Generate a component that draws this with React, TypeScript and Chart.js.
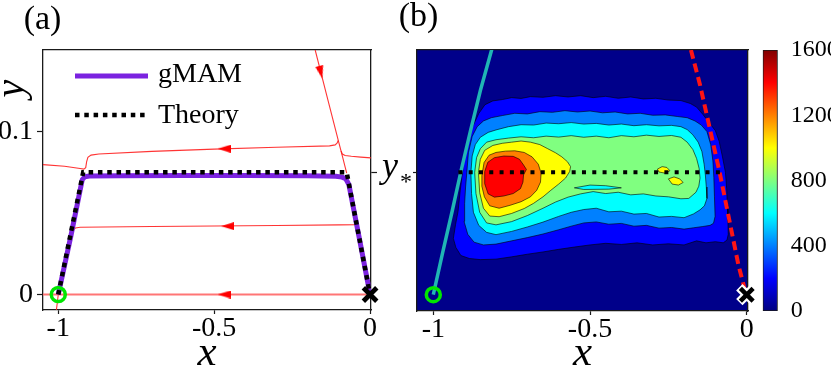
import React, { useEffect, useRef } from 'react';
import { Chart, registerables } from 'chart.js';

Chart.register(...registerables);

const SERIF = "'Liberation Serif', 'Times New Roman', serif";
Chart.defaults.font.family = SERIF;
Chart.defaults.color = '#000';

// ---------- shared axis data ----------
const X_TICKS = [-1, -0.5, 0];
const X_TICK_LABELS = ['-1', '-0.5', '0'];
const A_Y_TICKS = [0, 0.1];
const A_Y_TICK_LABELS = ['0', '0.1'];
const Y_STAR = 0.075;
const A_X_RANGE = [-1.049, 0.003];
const B_X_RANGE = [-1.052, 0.004];
const A_Y_RANGE = [-0.0095, 0.15];
const B_Y_RANGE = [-0.01, 0.15];
const CBAR_TICKS = [0, 400, 800, 1200, 1600];
const CBAR_TICK_LABELS = ['0', '400', '800', '1200', '1600'];
const CBAR_RANGE = [0, 1600];
const CONTOUR_LEVELS = [200, 400, 600, 800, 1000, 1200, 1400];
const LEGEND_LABELS = ['gMAM', 'Theory'];

// ---------- panel (a) ----------
const START_X = [-1];
const START_Y = [0];
const SADDLE_X = [0];
const SADDLE_Y = [0];

const THEORY_X = [-1, -0.92, -0.075, 0];
const THEORY_Y = [0, 0.075, 0.075, 0];

const GMAM_X = [-1, -0.96, -0.923, -0.915, -0.9, -0.8, -0.6, -0.4, -0.2, -0.11, -0.09, -0.078, -0.068, -0.034, 0];
const GMAM_Y = [0, 0.0355, 0.0705, 0.0722, 0.0727, 0.0729, 0.073, 0.073, 0.0729, 0.0726, 0.072, 0.071, 0.0675, 0.034, 0];

const TRAJ_STEEP_X = [-0.176, -0.139, -0.102, -0.088, -0.075];
const TRAJ_STEEP_Y = [0.15, 0.1222, 0.0945, 0.0843, 0.0745];
const TRAJ_UPPER_X = [-0.102, -0.106, -0.112, -0.13, -0.3, -0.5, -0.7, -0.87, -0.895, -0.905, -0.909, -0.912, -0.918, -0.93, -0.98, -1.049];
const TRAJ_UPPER_Y = [0.0945, 0.0928, 0.0918, 0.0912, 0.0903, 0.0892, 0.0878, 0.0862, 0.0855, 0.0842, 0.0815, 0.0778, 0.0769, 0.0773, 0.0787, 0.0797];
const TRAJ_RIGHT_X = [-0.093, -0.089, -0.08, -0.06, -0.03, 0.003];
const TRAJ_RIGHT_Y = [0.088, 0.0862, 0.0853, 0.0848, 0.0843, 0.0838];
const TRAJ_MID_X = [-0.953, -0.945, -0.93, -0.7, -0.5, -0.3, -0.1, -0.046];
const TRAJ_MID_Y = [0.0395, 0.0408, 0.0413, 0.0417, 0.042, 0.0423, 0.0427, 0.0428];
const TRAJ_ZERO_X = [0.003, -1.049];
const TRAJ_ZERO_Y = [0, 0];
const TRAJ_DOWN_X = [-1, -1.006];
const TRAJ_DOWN_Y = [0, -0.0095];

const ARROW_X = [-0.468, -0.457, -0.468, -0.158];
const ARROW_Y = [0, 0.0419, 0.0894, 0.1363];
const ARROW_ROT = [180, 180, 180, 76];

// ---------- panel (b) ----------
const DOTTED_X = [-0.92, -0.08];
const DOTTED_Y = [0.075, 0.075];
const CYAN_X = [-1, -0.97, -0.94, -0.912, -0.882, -0.85, -0.814, -0.806];
const CYAN_Y = [0, 0.026, 0.051, 0.0755, 0.1, 0.125, 0.15, 0.156];
const REDDASH_X = [-0.178, -0.149, -0.087, -0.0265, -0.006];
const REDDASH_Y = [0.15, 0.1286, 0.0755, 0.0182, 0.003];

// contour outlines, level >= 200 ... >= 1400
const BAND_200 = [[-0.905,0.078],[-0.897,0.090],[-0.884,0.099],[-0.872,0.104],[-0.855,0.111],[-0.835,0.1165],[-0.81,0.1188],[-0.78,0.1196],[-0.75,0.1208],[-0.72,0.1203],[-0.69,0.1214],[-0.65,0.1210],[-0.61,0.1220],[-0.57,0.1212],[-0.53,0.1220],[-0.49,0.1208],[-0.45,0.1216],[-0.41,0.1204],[-0.37,0.1212],[-0.33,0.1200],[-0.29,0.1204],[-0.25,0.1193],[-0.21,0.1190],[-0.18,0.1172],[-0.16,0.1150],[-0.14,0.1105],[-0.12,0.1055],[-0.10,0.1005],[-0.088,0.094],[-0.078,0.085],[-0.068,0.075],[-0.064,0.065],[-0.062,0.055],[-0.060,0.045],[-0.059,0.037],[-0.063,0.0335],[-0.075,0.0318],[-0.10,0.0325],[-0.13,0.0318],[-0.16,0.0330],[-0.20,0.0305],[-0.25,0.0312],[-0.30,0.0305],[-0.35,0.0318],[-0.40,0.0308],[-0.45,0.0315],[-0.50,0.0305],[-0.55,0.0292],[-0.60,0.0278],[-0.65,0.0262],[-0.70,0.0248],[-0.75,0.0232],[-0.80,0.0218],[-0.85,0.0215],[-0.885,0.0222],[-0.912,0.0240],[-0.928,0.029],[-0.936,0.0345],[-0.929,0.043],[-0.921,0.051],[-0.914,0.064]];
const BAND_400 = [[-0.893,0.075],[-0.888,0.087],[-0.876,0.097],[-0.86,0.103],[-0.84,0.1065],[-0.815,0.1085],[-0.78,0.1098],[-0.74,0.1112],[-0.70,0.1108],[-0.66,0.1122],[-0.62,0.1118],[-0.58,0.1128],[-0.54,0.1120],[-0.50,0.1126],[-0.46,0.1115],[-0.42,0.1120],[-0.38,0.1108],[-0.34,0.1112],[-0.30,0.1100],[-0.26,0.1102],[-0.22,0.1092],[-0.19,0.1085],[-0.165,0.1065],[-0.145,0.1040],[-0.127,0.100],[-0.115,0.092],[-0.108,0.082],[-0.105,0.072],[-0.103,0.060],[-0.101,0.048],[-0.106,0.0438],[-0.117,0.0425],[-0.14,0.0418],[-0.17,0.0410],[-0.20,0.0402],[-0.24,0.0412],[-0.28,0.0408],[-0.32,0.0425],[-0.36,0.0420],[-0.40,0.0437],[-0.44,0.0432],[-0.48,0.0446],[-0.52,0.0440],[-0.56,0.0420],[-0.60,0.0398],[-0.65,0.0372],[-0.70,0.0350],[-0.75,0.0330],[-0.80,0.0310],[-0.84,0.0305],[-0.87,0.0322],[-0.89,0.0370],[-0.902,0.0450],[-0.90,0.056],[-0.897,0.066]];
const BAND_600 = [[-0.880,0.075],[-0.876,0.085],[-0.866,0.092],[-0.85,0.0965],[-0.825,0.0995],[-0.80,0.1010],[-0.76,0.1030],[-0.72,0.1042],[-0.68,0.1040],[-0.64,0.1052],[-0.60,0.1048],[-0.56,0.1055],[-0.52,0.1046],[-0.48,0.1050],[-0.44,0.1040],[-0.40,0.1046],[-0.36,0.1036],[-0.32,0.1042],[-0.28,0.1035],[-0.24,0.1038],[-0.21,0.1030],[-0.19,0.1012],[-0.172,0.0980],[-0.155,0.0935],[-0.143,0.0877],[-0.136,0.080],[-0.132,0.0734],[-0.129,0.066],[-0.127,0.0590],[-0.135,0.0545],[-0.149,0.0520],[-0.17,0.0495],[-0.20,0.0472],[-0.24,0.0480],[-0.28,0.0476],[-0.32,0.0498],[-0.36,0.0494],[-0.40,0.0512],[-0.44,0.0508],[-0.48,0.0530],[-0.52,0.0522],[-0.56,0.0505],[-0.60,0.0480],[-0.65,0.0445],[-0.70,0.0415],[-0.75,0.0388],[-0.80,0.0368],[-0.83,0.0382],[-0.855,0.0425],[-0.872,0.0505],[-0.878,0.0620]];
const BAND_800 = [[-0.868,0.075],[-0.862,0.084],[-0.850,0.0895],[-0.830,0.0935],[-0.80,0.0950],[-0.76,0.0960],[-0.72,0.0968],[-0.68,0.0962],[-0.64,0.0972],[-0.60,0.0966],[-0.56,0.0975],[-0.52,0.0965],[-0.48,0.0972],[-0.44,0.0962],[-0.40,0.0975],[-0.36,0.0968],[-0.32,0.0978],[-0.28,0.0970],[-0.24,0.0976],[-0.21,0.0965],[-0.19,0.0935],[-0.172,0.0890],[-0.160,0.0835],[-0.152,0.0775],[-0.149,0.0715],[-0.153,0.0665],[-0.162,0.0628],[-0.185,0.0590],[-0.21,0.0588],[-0.25,0.0600],[-0.29,0.0605],[-0.33,0.0618],[-0.37,0.0612],[-0.41,0.0628],[-0.45,0.0620],[-0.49,0.0632],[-0.53,0.0618],[-0.57,0.0598],[-0.61,0.0568],[-0.65,0.0530],[-0.70,0.0485],[-0.75,0.0448],[-0.80,0.0428],[-0.83,0.0440],[-0.852,0.0505],[-0.864,0.0620]];
const BAND_1000 = [[-0.856,0.075],[-0.850,0.083],[-0.836,0.0885],[-0.81,0.0915],[-0.78,0.0928],[-0.75,0.0935],[-0.72,0.0942],[-0.69,0.0935],[-0.66,0.0920],[-0.635,0.0895],[-0.61,0.0870],[-0.59,0.0845],[-0.572,0.0815],[-0.562,0.0785],[-0.565,0.0755],[-0.578,0.0715],[-0.60,0.0678],[-0.625,0.0640],[-0.65,0.0600],[-0.68,0.0560],[-0.71,0.0528],[-0.75,0.0498],[-0.79,0.0478],[-0.82,0.0482],[-0.840,0.0530],[-0.852,0.0625]];
const BAND_1200 = [[-0.845,0.073],[-0.838,0.081],[-0.822,0.0855],[-0.80,0.0872],[-0.77,0.0880],[-0.74,0.0882],[-0.71,0.0872],[-0.685,0.0845],[-0.665,0.0800],[-0.656,0.0745],[-0.658,0.0690],[-0.670,0.0640],[-0.69,0.0600],[-0.72,0.0570],[-0.755,0.0548],[-0.79,0.0530],[-0.82,0.0545],[-0.837,0.0600],[-0.845,0.0665]];
const BAND_1400 = [[-0.836,0.0755],[-0.826,0.0812],[-0.805,0.0840],[-0.775,0.0850],[-0.745,0.0848],[-0.725,0.0830],[-0.712,0.0795],[-0.703,0.0768],[-0.712,0.0735],[-0.714,0.0690],[-0.722,0.0650],[-0.745,0.0620],[-0.775,0.0605],[-0.805,0.0598],[-0.825,0.0618],[-0.836,0.0680]];
const ISLAND_1000_A = [[-0.285,0.077],[-0.27,0.0785],[-0.255,0.078],[-0.245,0.076],[-0.26,0.0745],[-0.28,0.0752]];
const ISLAND_1000_B = [[-0.25,0.071],[-0.232,0.0722],[-0.214,0.071],[-0.203,0.0688],[-0.218,0.0672],[-0.238,0.0678]];
const ISLAND_600_A = [[-0.55,0.0655],[-0.5,0.0672],[-0.45,0.0668],[-0.40,0.0655],[-0.44,0.0647],[-0.52,0.0645]];

// ---------- helpers ----------
const pts = (xs: number[], ys: number[]) => xs.map((x, i) => ({ x, y: ys[i] }));
const ring = (p: number[][]) => [...p, p[0]].map(([x, y]) => ({ x, y }));
const clamp = (v: number) => Math.max(0, Math.min(1, v));
const jetRGB = (t: number) => [
  clamp(1.5 - Math.abs(4 * t - 3)),
  clamp(1.5 - Math.abs(4 * t - 2)),
  clamp(1.5 - Math.abs(4 * t - 1)),
].map((v) => Math.round(v * 255));
const jet = (t: number) => `rgb(${jetRGB(t).join(',')})`;
const levelColor = (level: number) => jet((level - CBAR_RANGE[0]) / (CBAR_RANGE[1] - CBAR_RANGE[0]));

const fixedTicks = (values: number[]) => (s: any) => {
  s.ticks = values.map((v) => ({ value: v }));
};
const labelFor = (values: number[], labels: string[]) => (v: any) => {
  const i = values.indexOf(Number(v));
  return i >= 0 ? labels[i] : '';
};

const FRAME = { display: true, color: '#1a1a1a', width: 1.3 };
const TICK_FONT = { family: SERIF, size: 28, lineHeight: 1 };
const TITLE_FONT = { family: SERIF, size: 43, style: 'italic' as const, lineHeight: 0.72 };
const GMAM_COLOR = '#7b22e0';
const TRAJ_COLOR = 'rgba(255,30,30,0.9)';

function makeArrowHead() {
  const c = document.createElement('canvas');
  c.width = 13;
  c.height = 8;
  const g = c.getContext('2d')!;
  g.fillStyle = '#ff0000';
  g.beginPath();
  g.moveTo(0, 0);
  g.lineTo(13, 4);
  g.lineTo(0, 8);
  g.closePath();
  g.fill();
  return c;
}

const line = (data: any[], color: string, width: number, order: number, extra: any = {}) => ({
  type: 'line',
  data,
  borderColor: color,
  borderWidth: width,
  pointRadius: 0,
  fill: false,
  tension: 0,
  order,
  ...extra,
});

const xAxis = (range: number[], height: number) => ({
  type: 'linear',
  position: 'bottom',
  min: range[0],
  max: range[1],
  afterBuildTicks: fixedTicks(X_TICKS),
  afterFit: (s: any) => { s.height = height; },
  ticks: { callback: labelFor(X_TICKS, X_TICK_LABELS), font: TICK_FONT, padding: 1, autoSkip: false, maxRotation: 0, color: '#000' },
  grid: { drawOnChartArea: false, drawTicks: true, tickLength: 4, color: '#1a1a1a', tickWidth: 1.2 },
  border: FRAME,
  title: { display: true, text: 'x', font: TITLE_FONT, padding: 0, color: '#000' },
});
const topAxis = (range: number[]) => ({
  type: 'linear', position: 'top', min: range[0], max: range[1],
  afterFit: (s: any) => { s.height = 0; },
  ticks: { display: false }, grid: { display: false }, border: FRAME,
});

// ---------- panel (a) config ----------
function configA(arrow: HTMLCanvasElement): any {
  const textPlugin = {
    id: 'panelAText',
    afterDatasetsDraw(chart: any) {
      const { ctx, chartArea: a } = chart;
      ctx.save();
      ctx.lineCap = 'butt';
      ctx.strokeStyle = GMAM_COLOR;
      ctx.lineWidth = 5;
      ctx.setLineDash([]);
      ctx.beginPath();
      ctx.moveTo(a.left + 32, a.top + 26);
      ctx.lineTo(a.left + 105, a.top + 26);
      ctx.stroke();
      ctx.strokeStyle = '#000';
      ctx.lineWidth = 4.5;
      ctx.setLineDash([4.5, 4.8]);
      ctx.beginPath();
      ctx.moveTo(a.left + 32, a.top + 65);
      ctx.lineTo(a.left + 105, a.top + 65);
      ctx.stroke();
      ctx.setLineDash([]);
      ctx.fillStyle = '#000';
      ctx.font = `28px ${SERIF}`;
      ctx.textAlign = 'left';
      ctx.textBaseline = 'alphabetic';
      ctx.fillText(LEGEND_LABELS[0], a.left + 115, a.top + 32);
      ctx.fillText(LEGEND_LABELS[1], a.left + 115, a.top + 73);
      ctx.restore();
    },
    afterDraw(chart: any) {
      const { ctx, chartArea: a } = chart;
      ctx.save();
      ctx.fillStyle = '#000';
      ctx.font = `34px ${SERIF}`;
      ctx.textAlign = 'center';
      ctx.textBaseline = 'middle';
      ctx.fillText('(a)', 42.5, 20);
      ctx.save();
      ctx.translate(23, 88.5);
      ctx.rotate(-Math.PI / 2);
      ctx.font = `italic 40px ${SERIF}`;
      ctx.textAlign = 'center';
      ctx.textBaseline = 'alphabetic';
      ctx.fillText('y', 0, 0);
      ctx.restore();
      const py = chart.scales.yr.getPixelForValue(Y_STAR);
      ctx.textAlign = 'left';
      ctx.textBaseline = 'alphabetic';
      ctx.font = `italic 36px ${SERIF}`;
      ctx.fillText('y', a.right + 11, py + 5);
      ctx.font = `24px ${SERIF}`;
      ctx.fillText('*', a.right + 29, py + 16.5);
      ctx.restore();
    },
  };

  return {
    type: 'line',
    data: {
      datasets: [
        { type: 'line', label: 'saddle', data: pts(SADDLE_X, SADDLE_Y), showLine: false, pointStyle: 'crossRot', pointRadius: 9.5, pointBorderWidth: 4.8, pointBorderColor: '#000', clip: false, order: 0 },
        { type: 'line', label: 'start', data: pts(START_X, START_Y), showLine: false, pointStyle: 'circle', pointRadius: 7, pointBorderWidth: 3.5, pointBorderColor: '#00e600', pointBackgroundColor: 'rgba(0,0,0,0)', clip: false, order: 1 },
        { type: 'line', label: 'arrows', data: pts(ARROW_X, ARROW_Y), showLine: false, pointStyle: arrow, pointRotation: ARROW_ROT, pointRadius: 6, order: 2 },
        line(pts(THEORY_X, THEORY_Y), '#000', 4.5, 3, { label: LEGEND_LABELS[1], borderDash: [4.5, 4.8] }),
        line(pts(GMAM_X, GMAM_Y), GMAM_COLOR, 5, 4, { label: LEGEND_LABELS[0], borderJoinStyle: 'round' }),
        line(pts(TRAJ_STEEP_X, TRAJ_STEEP_Y), TRAJ_COLOR, 1.1, 5),
        line(pts(TRAJ_UPPER_X, TRAJ_UPPER_Y), TRAJ_COLOR, 1.1, 6),
        line(pts(TRAJ_RIGHT_X, TRAJ_RIGHT_Y), TRAJ_COLOR, 1.1, 7),
        line(pts(TRAJ_MID_X, TRAJ_MID_Y), TRAJ_COLOR, 1.1, 8),
        line(pts(TRAJ_ZERO_X, TRAJ_ZERO_Y), 'rgba(255,110,110,0.95)', 2, 9),
        line(pts(TRAJ_DOWN_X, TRAJ_DOWN_Y), TRAJ_COLOR, 1.1, 10),
      ],
    },
    options: {
      responsive: false,
      animation: false,
      devicePixelRatio: 1,
      events: [],
      layout: { padding: { top: 50, left: 0, right: 0, bottom: 0 } },
      plugins: { legend: { display: false }, tooltip: { enabled: false } },
      scales: {
        x: xAxis(A_X_RANGE, 59),
        xt: topAxis(A_X_RANGE),
        y: {
          type: 'linear', position: 'left', min: A_Y_RANGE[0], max: A_Y_RANGE[1],
          afterBuildTicks: fixedTicks(A_Y_TICKS),
          afterFit: (s: any) => { s.width = 43; },
          ticks: { callback: labelFor(A_Y_TICKS, A_Y_TICK_LABELS), font: TICK_FONT, padding: 4, color: '#000' },
          grid: { drawOnChartArea: false, drawTicks: true, tickLength: 6, color: '#1a1a1a', tickWidth: 1.2 },
          border: FRAME,
        },
        yr: {
          type: 'linear', position: 'right', min: A_Y_RANGE[0], max: A_Y_RANGE[1],
          afterBuildTicks: fixedTicks([Y_STAR]),
          afterFit: (s: any) => { s.width = 49; },
          ticks: { callback: () => '', font: TICK_FONT, padding: 2 },
          grid: { drawOnChartArea: false, drawTicks: true, tickLength: 6, color: '#1a1a1a', tickWidth: 1.2 },
          border: FRAME,
        },
      },
    },
    plugins: [textPlugin],
  };
}

// ---------- panel (b) config ----------
function configB(): any {
  const bands = [BAND_200, BAND_400, BAND_600, BAND_800, BAND_1000, BAND_1200, BAND_1400];
  const contourDatasets = bands.map((band, i) => line(ring(band), 'rgba(0,0,0,0.85)', 0.7, 30 - i, {
    fill: 'shape',
    backgroundColor: levelColor(CONTOUR_LEVELS[i]),
  }));
  const islands = [
    { p: ISLAND_1000_A, level: 1000 },
    { p: ISLAND_1000_B, level: 1000 },
    { p: ISLAND_600_A, level: 600 },
  ].map((isl, i) => line(ring(isl.p), 'rgba(0,0,0,0.85)', 0.7, 15 + i, {
    fill: 'shape',
    backgroundColor: levelColor(isl.level),
  }));

  const bgPlugin = {
    id: 'panelBBg',
    beforeDraw(chart: any) {
      const { ctx, chartArea: a } = chart;
      if (!a) return;
      ctx.save();
      ctx.fillStyle = 'rgb(0,0,138)';
      ctx.fillRect(a.left, a.top, a.right - a.left, a.bottom - a.top);
      ctx.restore();
    },
    afterDraw(chart: any) {
      const { ctx } = chart;
      ctx.save();
      ctx.fillStyle = '#000';
      ctx.font = `34px ${SERIF}`;
      ctx.textAlign = 'center';
      ctx.textBaseline = 'middle';
      ctx.fillText('(b)', 28.5, 17);
      ctx.restore();
    },
  };

  return {
    type: 'line',
    data: {
      datasets: [
        { type: 'line', data: pts(SADDLE_X, SADDLE_Y), showLine: false, pointStyle: 'crossRot', pointRadius: 9, pointBorderWidth: 4.5, pointBorderColor: '#000', clip: false, order: 0 },
        { type: 'line', data: pts(SADDLE_X, SADDLE_Y), showLine: false, pointStyle: 'crossRot', pointRadius: 10.5, pointBorderWidth: 9, pointBorderColor: '#fff', clip: false, order: 1 },
        { type: 'line', data: pts(START_X, START_Y), showLine: false, pointStyle: 'circle', pointRadius: 7, pointBorderWidth: 3.5, pointBorderColor: '#00e600', pointBackgroundColor: 'rgba(0,0,0,0)', clip: false, order: 2 },
        line(pts(DOTTED_X, DOTTED_Y), '#000', 4, 3, { borderDash: [4, 6.3] }),
        line(pts(REDDASH_X, REDDASH_Y), '#ff1414', 4, 4, { borderDash: [9, 5] }),
        line(pts(CYAN_X, CYAN_Y), '#20b5b5', 3.5, 5),
        ...islands,
        ...contourDatasets,
      ],
    },
    options: {
      responsive: false,
      animation: false,
      devicePixelRatio: 1,
      events: [],
      layout: { padding: { top: 50, left: 0, right: 83, bottom: 0 } },
      plugins: { legend: { display: false }, tooltip: { enabled: false } },
      scales: {
        x: xAxis(B_X_RANGE, 58),
        xt: topAxis(B_X_RANGE),
        y: {
          type: 'linear', position: 'left', min: B_Y_RANGE[0], max: B_Y_RANGE[1],
          afterBuildTicks: fixedTicks([Y_STAR]),
          afterFit: (s: any) => { s.width = 27; },
          ticks: { callback: () => '', font: TICK_FONT, padding: 2 },
          grid: { drawOnChartArea: false, drawTicks: true, tickLength: 4, color: '#1a1a1a', tickWidth: 1.2 },
          border: FRAME,
        },
        yr: {
          type: 'linear', position: 'right', min: B_Y_RANGE[0], max: B_Y_RANGE[1],
          afterFit: (s: any) => { s.width = 0; },
          ticks: { display: false }, grid: { display: false }, border: FRAME,
        },
      },
    },
    plugins: [bgPlugin],
  };
}

// ---------- colour bar config ----------
function configCbar(): any {
  const stops = [0, 0.125, 0.375, 0.625, 0.875, 1];
  return {
    type: 'bar',
    data: {
      labels: [''],
      datasets: [{
        data: [CBAR_RANGE],
        backgroundColor: (c: any) => {
          const a = c.chart.chartArea;
          if (!a) return 'rgba(0,0,0,0)';
          const g = c.chart.ctx.createLinearGradient(0, a.bottom, 0, a.top);
          stops.forEach((t) => g.addColorStop(t, jet(t)));
          return g;
        },
        borderColor: '#1a1a1a',
        borderWidth: 1.2,
        borderSkipped: false,
        barPercentage: 1,
        categoryPercentage: 1,
      }],
    },
    options: {
      responsive: false,
      animation: false,
      devicePixelRatio: 1,
      events: [],
      layout: { padding: { top: 50, left: 12.7, right: 0, bottom: 58 } },
      plugins: { legend: { display: false }, tooltip: { enabled: false } },
      scales: {
        x: { display: false },
        y: {
          position: 'right', min: CBAR_RANGE[0], max: CBAR_RANGE[1],
          afterBuildTicks: fixedTicks(CBAR_TICKS),
          afterFit: (s: any) => { s.width = 53.3; },
          ticks: { callback: labelFor(CBAR_TICKS, CBAR_TICK_LABELS), font: { family: SERIF, size: 24, lineHeight: 1 }, padding: 5, color: '#000' },
          grid: { display: false },
          border: { display: false },
        },
      },
    },
  };
}

export default function App() {
  const aRef = useRef<HTMLCanvasElement>(null);
  const bRef = useRef<HTMLCanvasElement>(null);
  const cRef = useRef<HTMLCanvasElement>(null);

  useEffect(() => {
    const arrow = makeArrowHead();
    const charts: Chart[] = [];
    if (bRef.current) charts.push(new Chart(bRef.current, configB()));
    if (cRef.current) charts.push(new Chart(cRef.current, configCbar()));
    if (aRef.current) charts.push(new Chart(aRef.current, configA(arrow)));
    return () => { charts.forEach((c) => c.destroy()); };
  }, []);

  return (
    <div style={{ position: 'fixed', left: 0, top: 0, width: 831, height: 369, background: '#fff', overflow: 'hidden' }}>
      <canvas ref={bRef} width={441} height={369} style={{ position: 'absolute', left: 390, top: 0, width: 441, height: 369 }} />
      <canvas ref={cRef} width={81} height={369} style={{ position: 'absolute', left: 750, top: 0, width: 81, height: 369 }} />
      <canvas ref={aRef} width={420} height={369} style={{ position: 'absolute', left: 0, top: 0, width: 420, height: 369, zIndex: 2 }} />
    </div>
  );
}
